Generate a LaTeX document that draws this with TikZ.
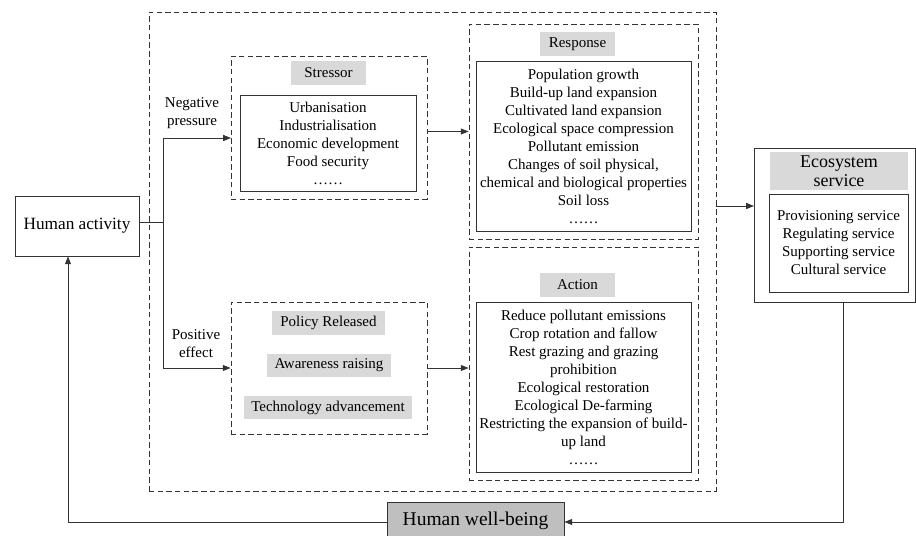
\documentclass[tikz,border=0pt]{standalone}
\usepackage{fontspec}
\setmainfont{Liberation Serif}
\usetikzlibrary{arrows.meta,positioning,fit}
\definecolor{TagGray}{RGB}{217,217,217}
\definecolor{WellGray}{RGB}{191,191,191}
\definecolor{LineGray}{RGB}{51,51,51}

\begin{document}
\begin{tikzpicture}[x=0.667pt,y=-0.667pt,
    txt/.style={font=\fontsize{10}{12}\selectfont, align=center},
    dashbox/.style={draw=LineGray, line width=0.6pt, dash pattern=on 3.6pt off 2.2pt, inner sep=0pt},
    solidbox/.style={draw=LineGray, line width=0.6pt, inner sep=0pt, txt},
    listbox/.style={solidbox, minimum width=143.4pt, minimum height=113.4pt},
    tag/.style={fill=TagGray, minimum height=16pt, inner sep=0pt, txt},
    arr/.style={draw=LineGray, line width=0.6pt, -{Triangle[length=5.2pt,width=4pt]}},
    link/.style={draw=LineGray, line width=0.6pt}
  ]
    \useasboundingbox (0,0) rectangle (916,536);
    \node[dashbox, fit={(149,12) (716,491)}] (outer) {};
    \node[solidbox, font=\fontsize{11.5}{13}\selectfont, minimum width=82.7pt, minimum height=40pt] (activity) at (77,226) {Human activity};
    \node[dashbox, fit={(231,56) (427,199)}] (stressor) {};
    \node[tag, minimum width=50pt] (stressortag) at (328.5,73) {Stressor};
    \node[solidbox, minimum width=117.4pt, minimum height=64pt] (stressorlist) at (328,143) {Urbanisation\\Industrialisation\\Economic development\\Food security\\……};
    \node[dashbox, fit={(469,24) (698,239)}] (response) {};
    \node[tag, minimum width=50pt] (responsetag) at (577.5,44) {Response};
    \node[listbox] (responselist) at (583.5,146) {Population growth\\Build-up land expansion\\Cultivated land expansion\\Ecological space compression\\Pollutant emission\\Changes of soil physical,\\chemical and biological properties\\Soil loss\\……};
    \node[dashbox, fit={(231,302) (427,434)}] (policy) {};
    \node[tag, minimum width=75pt] (policytag) at (328.5,323) {Policy Released};
    \node[tag, minimum width=83pt] (awarenesstag) at (329,365.5) {Awareness raising};
    \node[tag, minimum width=112pt] (technologytag) at (328,407.5) {Technology advancement};
    \node[dashbox, fit={(469,247) (698,480)}] (action) {};
    \node[tag, minimum width=50pt] (actiontag) at (577.5,285) {Action};
    \node[listbox] (actionlist) at (583.5,387) {Reduce pollutant emissions\\Crop rotation and fallow\\Rest grazing and grazing\\prohibition\\Ecological restoration\\Ecological De-farming\\Restricting the expansion of build-\\up land\\……};
    \node[solidbox, fit={(754,148) (915,302)}] (eco) {};
    \node[tag, minimum width=92pt, minimum height=24.7pt, font=\fontsize{12}{12.7}\selectfont] (ecotag) at (839,171) {Ecosystem\\service};
    \node[solidbox, minimum width=92.7pt, minimum height=65.4pt] (ecolist) at (838.5,243) {Provisioning service\\Regulating service\\Supporting service\\Cultural service};
    \node[solidbox, fill=WellGray, font=\fontsize{13}{15}\selectfont, minimum width=118pt, minimum height=25.3pt] (wellbeing) at (475.5,521) {Human well-being};
    \node[txt] (negative) at (192,113.5) {Negative\\pressure};
    \node[txt] (positive) at (196,343.5) {Positive\\effect};
    \coordinate (split) at (163,222);
    \coordinate (negin) at (231,138);
    \coordinate (ecoin) at (754,206);
    \coordinate (turnright) at (843,522);
    \coordinate (turnleft) at (68,522);
    \draw[link] (activity.east |- split) -- (split);
    \draw[arr] (split) |- (negin);
    \draw[arr] (split) |- (policy.west);
    \draw[arr] (stressor.east |- response.west) -- (response.west);
    \draw[arr] (policy.east) -- (policy.east -| action.west);
    \draw[arr] (outer.east |- ecoin) -- (ecoin);
    \draw[arr] (eco.south -| turnright) -- (turnright) -- (wellbeing.east |- turnright);
    \draw[arr] (wellbeing.west |- turnleft) -- (turnleft) -- (activity.south -| turnleft);
  \end{tikzpicture}
\end{document}
